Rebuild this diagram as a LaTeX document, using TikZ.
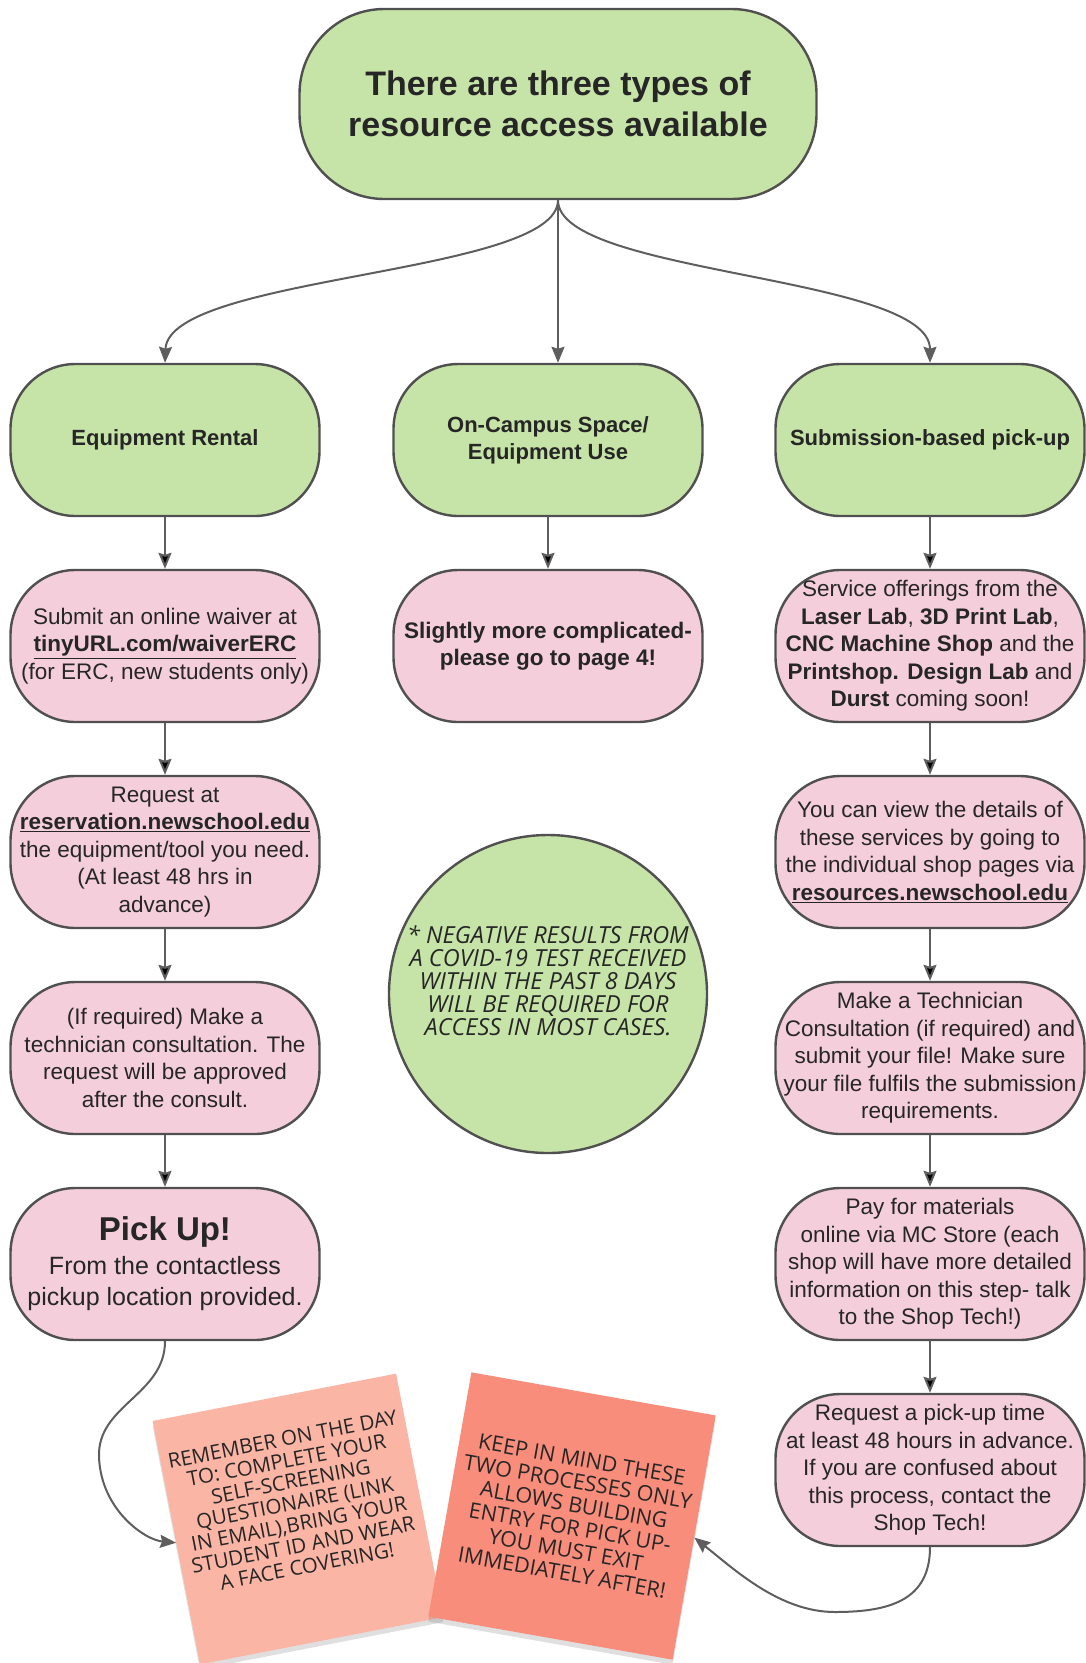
\documentclass[tikz,border=0pt]{standalone}
\usepackage{fontspec}
\setmainfont{Liberation Sans}
\newfontfamily\notefont{Open Sans}
\usetikzlibrary{arrows.meta,shadows}
\definecolor{boxgreen}{HTML}{C7E4A8}
\definecolor{boxpink}{HTML}{F4CEDB}
\definecolor{boxline}{HTML}{505050}
\definecolor{notelight}{HTML}{FAB5A5}
\definecolor{notedark}{HTML}{F98D7B}
\definecolor{linkgray}{HTML}{5E5E5E}
\newcommand{\weblink}[1]{\underline{\textbf{#1}}}

\begin{document}
\begin{tikzpicture}[x=1pt,y=-1pt,->,>={Stealth[length=16pt,width=13pt,inset=2pt]},
node distance=206pt,text=black!85]
\tikzstyle{head}=[draw=boxline,line width=2.4pt,fill=boxgreen,rounded corners=85pt,
  minimum width=517pt,minimum height=190pt,align=center,
  font=\fontsize{34}{41}\selectfont\bfseries]
\tikzstyle{kind}=[draw=boxline,line width=2.4pt,fill=boxgreen,rounded corners=65pt,
  minimum width=309pt,minimum height=152pt,align=center,inner xsep=2pt,
  font=\fontsize{22}{27}\selectfont\bfseries]
\tikzstyle{stage}=[kind,fill=boxpink,font=\fontsize{22.5}{27.5}\selectfont]
\tikzstyle{bubble}=[circle,draw=boxline,line width=2.4pt,fill=boxgreen,
  minimum size=318pt,align=center,inner sep=0pt,
  font=\notefont\itshape\fontsize{23.5}{23}\selectfont]
\tikzstyle{sticky}=[minimum size=248pt,align=center,
  drop shadow={opacity=0.25,shadow xshift=0pt,shadow yshift=-5pt}]
\tikzstyle{flow}=[draw=linkgray,line width=2pt]

\useasboundingbox (0,0) rectangle (1086,1663);

% three kinds of access
\node[head] (top) at (558,104) {There are three types of\\resource access available};
\node[kind] (rental) at (165,440) {Equipment Rental};
\node[kind] (campus) at (548,440) {On-Campus Space/\\Equipment Use};
\node[kind] (pickup) at (930,440) {Submission-based pick-up};

% rental steps
\node[stage] (waiver) [below of=rental] {Submit an online waiver at\\
  \weblink{tinyURL.com/waiverERC}\\(for ERC, new students only)};
\node[stage] (reserve) [below of=waiver] {Request at\\
  \weblink{reservation.newschool.edu}\\the equipment/tool you need.\\
  (At least 48 hrs in\\advance)};
\node[stage] (approve) [below of=reserve] {(If required) Make a\\
  technician consultation. The\\request will be approved\\after the consult.};
\node[stage,font=\fontsize{25}{31}\selectfont] (collect) [below of=approve]
  {{\fontsize{33}{40}\selectfont\bfseries Pick Up!}\\[3pt]From the contactless\\
  pickup location provided.};

% on-campus
\node[stage,font=\fontsize{22.5}{27.5}\selectfont\bfseries] (complex) [below of=campus]
  {Slightly more complicated-\\please go to page 4!};
\node[bubble] (covid) at (548,994) {* NEGATIVE RESULTS FROM\\A COVID-19 TEST RECEIVED\\
  WITHIN THE PAST 8 DAYS\\WILL BE REQUIRED FOR\\ACCESS IN MOST CASES.\\[4pt]};

% submission steps
\node[stage] (offer) [below of=pickup] {Service offerings from the\\
  \textbf{Laser Lab}, \textbf{3D Print Lab},\\\textbf{CNC Machine Shop} and the\\
  \textbf{Printshop. Design Lab} and\\\textbf{Durst} coming soon!};
\node[stage] (details) [below of=offer] {You can view the details of\\
  these services by going to\\the individual shop pages via\\
  \weblink{resources.newschool.edu}};
\node[stage] (techcon) [below of=details] {Make a Technician\\
  Consultation (if required) and\\submit your file! Make sure\\
  your file fulfils the submission\\requirements.};
\node[stage] (materials) [below of=techcon] {Pay for materials\\
  online via MC Store (each\\shop will have more detailed\\
  information on this step- talk\\to the Shop Tech!)};
\node[stage] (schedule) [below of=materials] {Request a pick-up time\\
  at least 48 hours in advance.\\If you are confused about\\
  this process, contact the\\Shop Tech!};

% sticky notes
\node[sticky,fill=notelight,rotate=11,font=\notefont\fontsize{20.5}{21.5}\selectfont]
  (reminder) at (298,1519)
  {REMEMBER ON THE DAY\\TO: COMPLETE YOUR\\SELF-SCREENING\\QUESTIONAIRE (LINK\\
  IN EMAIL),BRING YOUR\\STUDENT ID AND WEAR\\A FACE COVERING!\\[12pt]};
\node[sticky,fill=notedark,rotate=-10,font=\notefont\fontsize{21.5}{23}\selectfont]
  (entrynote) at (572,1516)
  {KEEP IN MIND THESE\\TWO PROCESSES ONLY\\ALLOWS BUILDING\\ENTRY FOR PICK UP-\\
  YOU MUST EXIT\\IMMEDIATELY AFTER!};
\coordinate (offpage) at (1112,985);

\draw[flow] (top.south) .. controls (558,275) and (168,275) .. (rental.north);
\draw[flow] (top.south) -- (top.south |- campus.north);
\draw[flow] (top.south) .. controls (558,275) and (930,275) .. (pickup.north);
\path[flow] (rental) edge (waiver)
      (waiver) edge (reserve)
      (reserve) edge (approve)
      (approve) edge (collect)
      (campus) edge (complex)
      (pickup) edge (offer)
      (offer) edge (details)
      (details) edge (techcon)
      (techcon) edge (materials)
      (materials) edge (schedule);
\draw[flow] (collect.south) .. controls (165,1395) and (97,1405) .. (99,1457)
  .. controls (101,1510) and (145,1540) .. (reminder.west);
\draw[flow] (schedule.south) .. controls (930,1600) and (890,1612) .. (835,1612)
  .. controls (780,1612) and (735,1570) .. (entrynote.east);
\draw[flow] (offpage) -- (techcon);
\end{tikzpicture}
\end{document}
